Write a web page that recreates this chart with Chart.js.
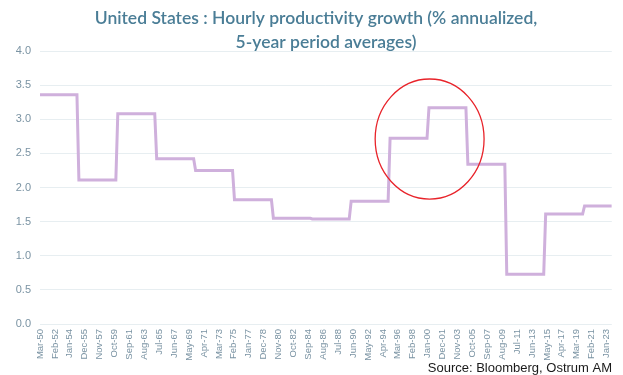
<!DOCTYPE html>
<html>
<head>
<meta charset="utf-8">
<script src="https://cdn.jsdelivr.net/npm/chart.js@4/dist/chart.umd.min.js"></script>
<style>
    body { margin: 0; background: #fff; }
    #wrap { position: relative; width: 623px; height: 375px; }
</style>
</head>
<body>
<div id="wrap"><canvas id="grafico" width="623" height="375"></canvas></div>
<script>
// DATOS
var tickLabels = ['Mar-50', 'Feb-52', 'Jan-54', 'Dec-55', 'Nov-57', 'Oct-59', 'Sep-61', 'Aug-63', 'Jul-65',
    'Jun-67', 'May-69', 'Apr-71', 'Mar-73', 'Feb-75', 'Jan-77', 'Dec-78', 'Nov-80', 'Oct-82', 'Sep-84',
    'Aug-86', 'Jul-88', 'Jun-90', 'May-92', 'Apr-94', 'Mar-96', 'Feb-98', 'Jan-00', 'Dec-01', 'Nov-03',
    'Oct-05', 'Sep-07', 'Aug-09', 'Jul-11', 'Jun-13', 'May-15', 'Apr-17', 'Mar-19', 'Feb-21', 'Jan-23'];

// periodos de 5 anos (inicio / fin) y su promedio
var periodStarts = ['Mar-50', 'Mar-55', 'Mar-60', 'Mar-65', 'Mar-70', 'Mar-75', 'Mar-80', 'Mar-85',
    'Mar-90', 'Mar-95', 'Mar-00', 'Mar-05', 'Mar-10', 'Mar-15', 'Mar-20'];
var periodEnds = ['Dec-54', 'Dec-59', 'Dec-64', 'Dec-69', 'Dec-74', 'Dec-79', 'Dec-84', 'Dec-89',
    'Dec-94', 'Dec-99', 'Dec-04', 'Dec-09', 'Dec-14', 'Dec-19', 'Sep-23'];
var productivity = [3.36, 2.11, 3.08, 2.42, 2.25, 1.82, 1.55, 1.54, 1.80, 2.72, 3.17, 2.34, 0.73, 1.61, 1.73];

var yTicks = [0, 0.5, 1, 1.5, 2, 2.5, 3, 3.5, 4];

// zona marcada en rojo
var highlight = { center: 'Apr-00', value: 2.71, months: 84, spread: 0.88 };

var meses = ['Jan', 'Feb', 'Mar', 'Apr', 'May', 'Jun', 'Jul', 'Aug', 'Sep', 'Oct', 'Nov', 'Dec'];

function monthIndex(label) {
    var partes = label.split('-');
    var yy = parseInt(partes[1], 10);
    var anio = yy >= 50 ? 1900 + yy : 2000 + yy;
    return (anio - 1950) * 12 + meses.indexOf(partes[0]) - 2;
}

var puntos = [];
for (var i = 0; i < productivity.length; i++) {
    puntos.push({ x: monthIndex(periodStarts[i]), y: productivity[i] });
    puntos.push({ x: monthIndex(periodEnds[i]), y: productivity[i] });
}

var textos = {
    id: 'textos',
    afterDraw: function (chart) {
        var ctx = chart.ctx;
        var xs = chart.scales.x;
        var ys = chart.scales.y;
        ctx.save();
        // titulo
        ctx.fillStyle = '#4a7d96';
        ctx.font = '600 17.5px Lato, "Open Sans", sans-serif';
        ctx.textAlign = 'center';
        ctx.textBaseline = 'middle';
        ctx.fillText('United States : Hourly productivity growth (% annualized,', 316, 18);
        ctx.fillText('5-year period averages)', 326, 42);
        // fuente
        ctx.fillStyle = '#1a1a1a';
        ctx.font = '13px "Liberation Sans", Arial, sans-serif';
        ctx.textAlign = 'right';
        ctx.fillText('Source: Bloomberg, Ostrum AM', 612, 368);
        // elipse roja
        var cx = xs.getPixelForValue(monthIndex(highlight.center));
        var cy = ys.getPixelForValue(highlight.value);
        var rx = xs.getPixelForValue(monthIndex(highlight.center) + highlight.months) - cx;
        var ry = cy - ys.getPixelForValue(highlight.value + highlight.spread);
        ctx.strokeStyle = '#e8232a';
        ctx.lineWidth = 1.3;
        ctx.beginPath();
        ctx.ellipse(cx, cy, rx, ry, 0, 0, Math.PI * 2);
        ctx.stroke();
        ctx.restore();
    }
};

var ctx = document.getElementById('grafico').getContext('2d');
var grafico = new Chart(ctx, {
    type: 'line',
    data: {
        datasets: [{
            data: puntos,
            borderColor: '#cfb0dc',
            borderWidth: 3,
            pointRadius: 0,
            tension: 0,
            fill: false
        }]
    },
    options: {
        responsive: false,
        animation: false,
        layout: { padding: { top: 51, right: 0, bottom: 0, left: 0 } },
        plugins: { legend: { display: false }, tooltip: { enabled: false } },
        scales: {
            x: {
                type: 'linear',
                min: 0,
                max: monthIndex('Sep-23'),
                afterBuildTicks: function (scale) {
                    scale.ticks = tickLabels.map(function (l) { return { value: monthIndex(l) }; });
                },
                afterFit: function (scale) { scale.height = 51; },
                grid: { display: false, drawTicks: false },
                border: { display: false },
                ticks: {
                    autoSkip: false,
                    minRotation: 90,
                    maxRotation: 90,
                    padding: 5,
                    color: '#7a93a3',
                    font: { family: '"Liberation Sans", Arial, sans-serif', size: 9.5 },
                    callback: function (v, i) { return tickLabels[i]; }
                }
            },
            y: {
                min: 0,
                max: 4,
                afterBuildTicks: function (scale) {
                    scale.ticks = yTicks.map(function (v) { return { value: v }; });
                },
                afterFit: function (scale) { scale.width = 40; },
                grid: { color: '#e7eef1', lineWidth: 1, drawTicks: false },
                border: { display: false },
                ticks: {
                    padding: 9,
                    color: '#7a93a3',
                    font: { family: '"Liberation Sans", Arial, sans-serif', size: 11 },
                    callback: function (v) { return v.toFixed(1); }
                }
            }
        }
    },
    plugins: [textos]
});
</script>
</body>
</html>
